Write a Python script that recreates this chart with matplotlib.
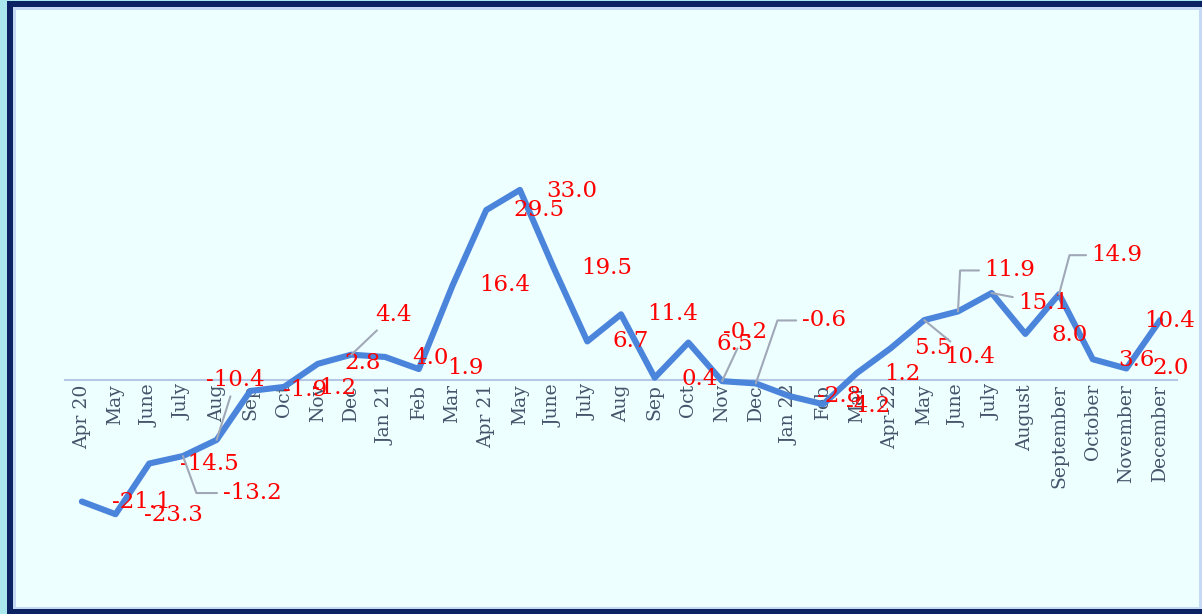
import matplotlib.pyplot as plt
from matplotlib.patches import Rectangle

# Monthly growth (%), April 2020 to December 2022
months = ["Apr 20", "May", "June", "July", "Aug", "Sep", "Oct", "Nov", "Dec",
          "Jan 21", "Feb", "Mar", "Apr 21", "May", "June", "July", "Aug", "Sep",
          "Oct", "Nov", "Dec", "Jan 22", "Feb", "Mar", "Apr-22", "May", "June",
          "July", "August", "September", "October", "November", "December"]
growth = [-21.1, -23.3, -14.5, -13.2, -10.4, -1.9, -1.2, 2.8, 4.4,
          4.0, 1.9, 16.4, 29.5, 33.0, 19.5, 6.7, 11.4, 0.4,
          6.5, -0.2, -0.6, -2.8, -4.2, 1.2, 5.5, 10.4, 11.9,
          15.1, 8.0, 14.9, 3.6, 2.0, 10.4]

# label placement (pixel offsets from each point, y up)
label_offsets = [(59, 0), (58, -1), (60, 0), (69, -37), (19, 60), (55, 1),
                 (50, -1), (45, 1), (42, 40), (45, -1), (47, 1), (52, 1),
                 (53, 0), (52, -1), (53, 0), (43, 0), (52, 0), (45, -1),
                 (46, -1), (23, 49), (68, 63), (50, 0), (45, -2), (45, -1),
                 (43, 0), (45, -37), (52, 41), (52, -10), (44, -1), (58, 39),
                 (44, -1), (44, 0), (9, -1)]
# leader lines: "line" = straight, number = elbow angle at the point
leaders = {3: -70, 4: "line", 8: "line", 19: "line", 20: 71,
           25: "line", 26: 87, 27: "line", 29: 75}

W, H = 1202, 614
fig = plt.figure(figsize=(W / 100, H / 100), dpi=100)
fig.patch.set_facecolor("#A9E9EE")


def px_rect(x0, y0, x1, y1, color):
    # rectangle given in pixels from the top-left corner
    fig.add_artist(Rectangle((x0 / W, 1 - y1 / H), (x1 - x0) / W, (y1 - y0) / H,
                             transform=fig.transFigure, facecolor=color,
                             edgecolor="none", zorder=-10))


px_rect(7, 1, W + 10, H + 10, "#0B2362")
px_rect(13, 7, W + 10, 609, "#C6D9F4")
px_rect(16, 10, 1199, 607, "#EEFFFF")

left, right, top, bottom = 65, 1177, 178.4, 524
ax = fig.add_axes([left / W, 1 - bottom / H, (right - left) / W, (bottom - top) / H])
ax.set_facecolor("none")

x = list(range(len(months)))
ax.plot(x, growth, color="#4A84DB", linewidth=4.4, solid_capstyle="round",
        solid_joinstyle="round", zorder=3)

ax.set_xlim(-0.5, len(months) - 0.5)
ax.set_ylim(-25, 35)

for s in ["top", "right", "left"]:
    ax.spines[s].set_visible(False)
ax.spines["bottom"].set_position(("data", 0))
ax.spines["bottom"].set_color("#B4C7E7")
ax.spines["bottom"].set_linewidth(1.5)
ax.set_yticks([])
ax.set_xticks(x)
ax.set_xticklabels(months, rotation=90, fontsize=13.5, family="DejaVu Serif",
                   color="#44546A")
ax.tick_params(axis="x", length=0, pad=3)

for i, (v, (dx, dy)) in enumerate(zip(growth, label_offsets)):
    props = None
    kind = leaders.get(i)
    if kind == "line":
        props = dict(arrowstyle="-", color="#A0A8B8", lw=1.5, shrinkB=0)
    elif kind is not None:
        props = dict(arrowstyle="-", color="#A0A8B8", lw=1.5, shrinkB=0,
                     connectionstyle=f"angle,angleA=0,angleB={kind},rad=0")
    ax.annotate(f"{v:.1f}", xy=(i, v), xytext=(dx, dy), textcoords="offset pixels",
                ha="center", va="center", fontsize=16.5, family="DejaVu Serif",
                color="#FF0000", arrowprops=props, annotation_clip=False, zorder=4)

fig.savefig("out.png", dpi=100, facecolor=fig.get_facecolor())
